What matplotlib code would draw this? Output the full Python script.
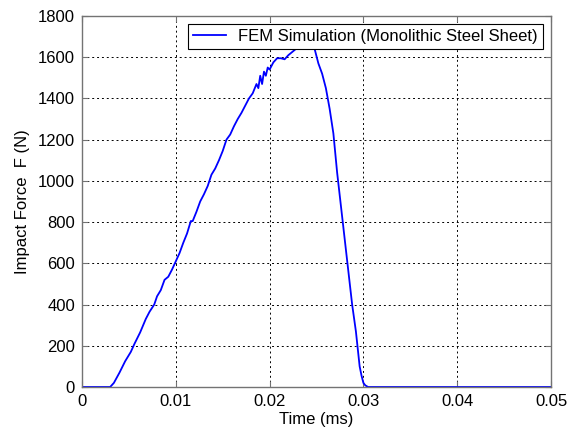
import numpy as np
import matplotlib
matplotlib.use('Agg')
import matplotlib.pyplot as plt

# ----- FORCE HISTORY (time in ms, force in N) -----
time_ms = [0.0, 0.0030, 0.0034, 0.0040, 0.0046, 0.0052, 0.0056, 0.0062, 0.0068,
           0.0072, 0.0077, 0.0080, 0.0084, 0.0088, 0.0092, 0.0096, 0.0100,
           0.0104, 0.0108, 0.0112, 0.0116, 0.0118, 0.0122, 0.0126, 0.0130,
           0.0134, 0.0138, 0.0142, 0.0146, 0.0150, 0.0154, 0.0158, 0.0162,
           0.0166, 0.0170, 0.0174, 0.0178, 0.0182, 0.0186, 0.0188, 0.0190,
           0.0192, 0.0194, 0.0196, 0.0198, 0.0200, 0.0204, 0.0208, 0.0212,
           0.0216, 0.0220, 0.0224, 0.0228, 0.0232, 0.0236, 0.0240, 0.0244,
           0.0248, 0.0252, 0.0256, 0.0260, 0.0264, 0.0268, 0.0272, 0.0276,
           0.0280, 0.0284, 0.0288, 0.0292, 0.0296, 0.0298, 0.0300, 0.0302,
           0.0305, 0.0500]
force_n = [0, 0, 20, 70, 125, 170, 210, 265, 330,
           365, 400, 440, 470, 520, 535, 570, 610,
           650, 700, 745, 805, 805, 850, 900, 935,
           975, 1030, 1060, 1100, 1145, 1200, 1225, 1265,
           1300, 1330, 1365, 1400, 1425, 1470, 1450, 1510,
           1470, 1530, 1510, 1550, 1540, 1575, 1595, 1595,
           1590, 1610, 1625, 1640, 1650, 1655, 1660, 1655,
           1640, 1570, 1520, 1450, 1350, 1230, 1040, 880,
           720, 560, 400, 270, 100, 55, 20, 8,
           0, 0]

plt.rcParams['font.family'] = ['Liberation Sans', 'DejaVu Sans']

fig = plt.figure(figsize=(5.76, 4.36), dpi=100)
ax = fig.add_axes([82 / 576, 1 - 387 / 436, (551 - 82) / 576, (387 - 16) / 436])

ax.plot(time_ms, force_n, color='#0000ff', linewidth=1.3,
        label='FEM Simulation (Monolithic Steel Sheet)')

ax.set_xlim(0, 0.05)
ax.set_ylim(0, 1800)
ax.set_xticks([0, 0.01, 0.02, 0.03, 0.04, 0.05])
ax.set_xticklabels(['0', '0.01', '0.02', '0.03', '0.04', '0.05'])
ax.set_yticks(range(0, 1801, 200))

ax.grid(True, color='black', linestyle=(0, (2, 3)), linewidth=0.7)
ax.tick_params(direction='in', length=4, color='0.45', labelsize=12,
               top=True, right=True, pad=5)
for s in ax.spines.values():
    s.set_color('0.45')
    s.set_linewidth(1.0)

ax.set_xlabel('Time (ms)', fontsize=12, labelpad=2)
ax.set_ylabel('Impact Force  F (N)', fontsize=12, labelpad=6)

leg = ax.legend(loc='upper right', fontsize=12, fancybox=False, framealpha=1,
                edgecolor='black', borderpad=0.3, handlelength=2.0,
                handletextpad=0.7, borderaxespad=0.5)
leg.get_frame().set_linewidth(0.8)

fig.savefig('out.png', dpi=100)
